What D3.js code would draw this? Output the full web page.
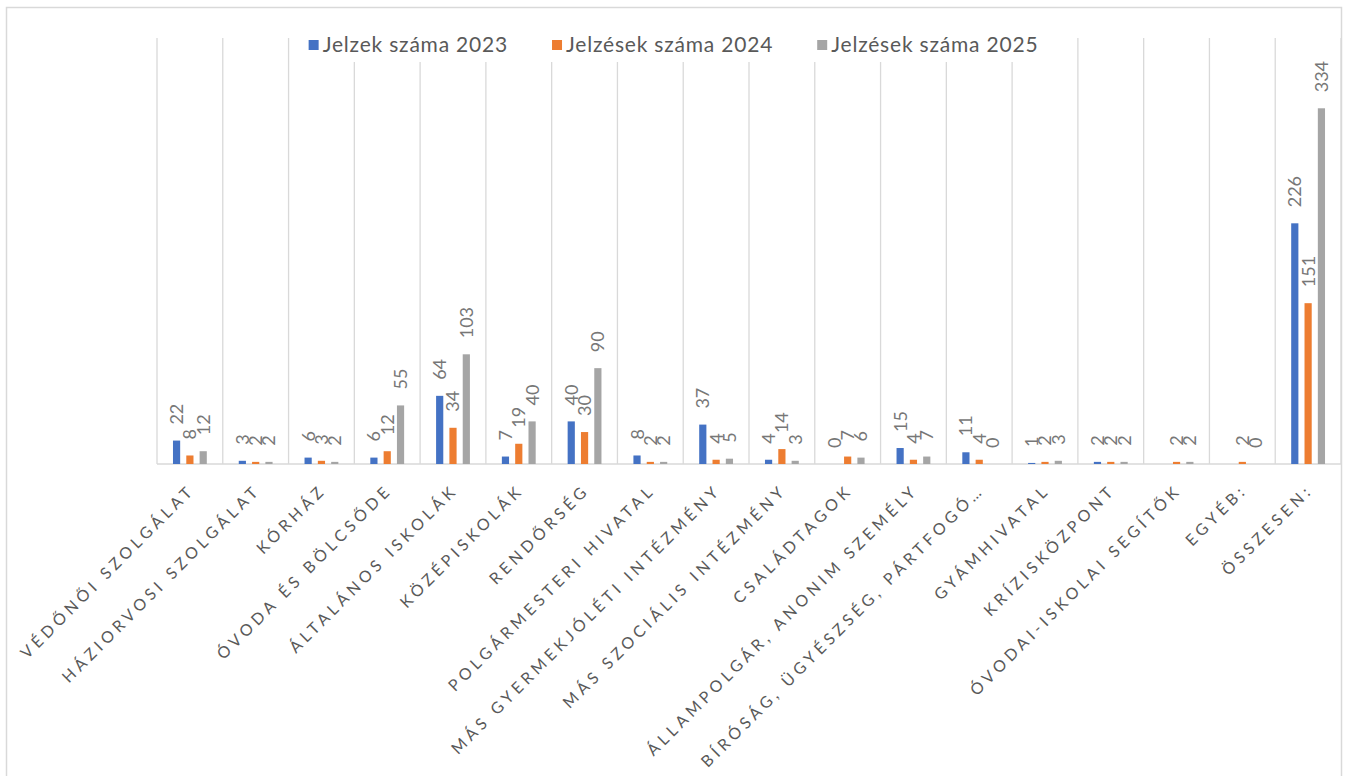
<!DOCTYPE html>
<html>
<head>
<meta charset="utf-8">
<script src="https://cdn.jsdelivr.net/npm/d3@7"></script>
<style>
  body { margin: 0; background: #fff; }
  text { font-family: Lato, "Open Sans", sans-serif; }
</style>
</head>
<body>
<script>
"use strict";

// categories (as shown on the axis)
var categories = [
  "VÉDŐNŐI SZOLGÁLAT", "HÁZIORVOSI SZOLGÁLAT", "KÓRHÁZ", "ÓVODA ÉS BÖLCSŐDE",
  "ÁLTALÁNOS ISKOLÁK", "KÖZÉPISKOLÁK", "RENDŐRSÉG", "POLGÁRMESTERI HIVATAL",
  "MÁS GYERMEKJÓLÉTI INTÉZMÉNY", "MÁS SZOCIÁLIS INTÉZMÉNY", "CSALÁDTAGOK",
  "ÁLLAMPOLGÁR, ANONIM SZEMÉLY", "BÍRÓSÁG, ÜGYÉSZSÉG, PÁRTFOGÓ…", "GYÁMHIVATAL",
  "KRÍZISKÖZPONT", "ÓVODAI-ISKOLAI SEGÍTŐK", "EGYÉB:", "ÖSSZESEN:"
];

// series values (null = no value in the table)
var jelzes2023 = [22, 3, 6, 6, 64, 7, 40, 8, 37, 4, 0, 15, 11, 1, 2, null, null, 226];
var jelzes2024 = [8, 2, 3, 12, 34, 19, 30, 2, 4, 14, 7, 4, 4, 2, 2, 2, 2, 151];
var jelzes2025 = [12, 2, 2, 55, 103, 40, 90, 2, 5, 3, 6, 7, 0, 3, 2, 2, 0, 334];

var seriesNames = ["Jelzek száma 2023", "Jelzések száma 2024", "Jelzések száma 2025"];
var seriesColors = ["#4472C4", "#ED7D31", "#A5A5A5"];
var yDomain = [0, 400];

var series = [jelzes2023, jelzes2024, jelzes2025];

// chart box
var W = 1346, H = 776;
var plot = {left: 157, right: 1341, top: 38, bottom: 464};

var svg = d3.select("body").append("svg")
    .attr("width", W)
    .attr("height", H);

// outer border
svg.append("rect")
    .attr("x", 6.5).attr("y", 7.5)
    .attr("width", 1335).attr("height", 800)
    .attr("fill", "#fff")
    .attr("stroke", "#d9d9d9")
    .attr("stroke-width", 1.5);

// scales
var x0 = d3.scaleBand()
    .domain(categories)
    .range([plot.left, plot.right])
    .padding(0);

var x1 = d3.scaleBand()
    .domain(d3.range(series.length))
    .range([0, x0.bandwidth()])
    .paddingInner(0.46)
    .paddingOuter(1.2);

var y = d3.scaleLinear().domain(yDomain).range([plot.bottom, plot.top]);

// vertical category gridlines
var bounds = categories.map(function(c) { return x0(c); }).concat([plot.right]);
svg.append("g").selectAll("line")
    .data(bounds)
  .enter().append("line")
    .attr("x1", function(d) { return d; })
    .attr("x2", function(d) { return d; })
    .attr("y1", plot.top)
    .attr("y2", plot.bottom)
    .attr("stroke", "#d9d9d9")
    .attr("stroke-width", 1.3);

// baseline
svg.append("line")
    .attr("x1", plot.left).attr("x2", plot.right)
    .attr("y1", y(0)).attr("y2", y(0))
    .attr("stroke", "#d9d9d9")
    .attr("stroke-width", 1.5);

// bars
var rows = [];
categories.forEach(function(c, i) {
  series.forEach(function(s, k) {
    if (s[i] !== null) rows.push({cat: c, k: k, value: s[i]});
  });
});

svg.append("g").selectAll("rect")
    .data(rows)
  .enter().append("rect")
    .attr("x", function(d) { return x0(d.cat) + x1(d.k); })
    .attr("y", function(d) { return y(d.value); })
    .attr("width", x1.bandwidth())
    .attr("height", function(d) { return y(0) - y(d.value); })
    .attr("fill", function(d) { return seriesColors[d.k]; });

// data labels, rotated
svg.append("g").selectAll("text")
    .data(rows)
  .enter().append("text")
    .attr("transform", function(d) {
      var cx = x0(d.cat) + x1(d.k) + x1.bandwidth() / 2;
      return "translate(" + cx + "," + (y(d.value) - 16) + ") rotate(-90)";
    })
    .attr("dy", "0.36em")
    .attr("fill", "#777777")
    .style("font-size", "18px")
    .text(function(d) { return d.value; });

// category axis labels, 45 degrees
svg.append("g").selectAll("text")
    .data(categories)
  .enter().append("text")
    .attr("transform", function(d) {
      var cx = x0(d) + x0.bandwidth() / 2;
      return "translate(" + (cx - 1) + "," + 490 + ") rotate(-45)";
    })
    .attr("text-anchor", "end")
    .attr("dx", 4.2)
    .attr("dy", "0.35em")
    .attr("fill", "#595959")
    .style("font-size", "16px")
    .style("letter-spacing", "4.2px")
    .text(function(d) { return d; });

// legend
var legend = svg.append("g");
var items = legend.selectAll("g")
    .data(seriesNames)
  .enter().append("g");
items.append("rect")
    .attr("width", 10).attr("height", 10)
    .attr("y", -5)
    .attr("fill", function(d, i) { return seriesColors[i]; });
items.append("text")
    .attr("x", 14)
    .attr("dy", "0.35em")
    .attr("fill", "#595959")
    .style("font-size", "21px")
    .style("letter-spacing", "0.8px")
    .text(function(d) { return d; });

var offs = [], pos = 0;
items.each(function() {
  offs.push(pos);
  pos += this.getBBox().width + 44;
});
var total = pos - 44;
var lx = (6 + 1341) / 2 - total / 2;
legend.insert("rect", ":first-child")
    .attr("x", lx - 6).attr("y", 30)
    .attr("width", total + 12).attr("height", 32)
    .attr("fill", "#fff");
items.attr("transform", function(d, i) { return "translate(" + (lx + offs[i]) + ",45)"; });
</script>
</body>
</html>
